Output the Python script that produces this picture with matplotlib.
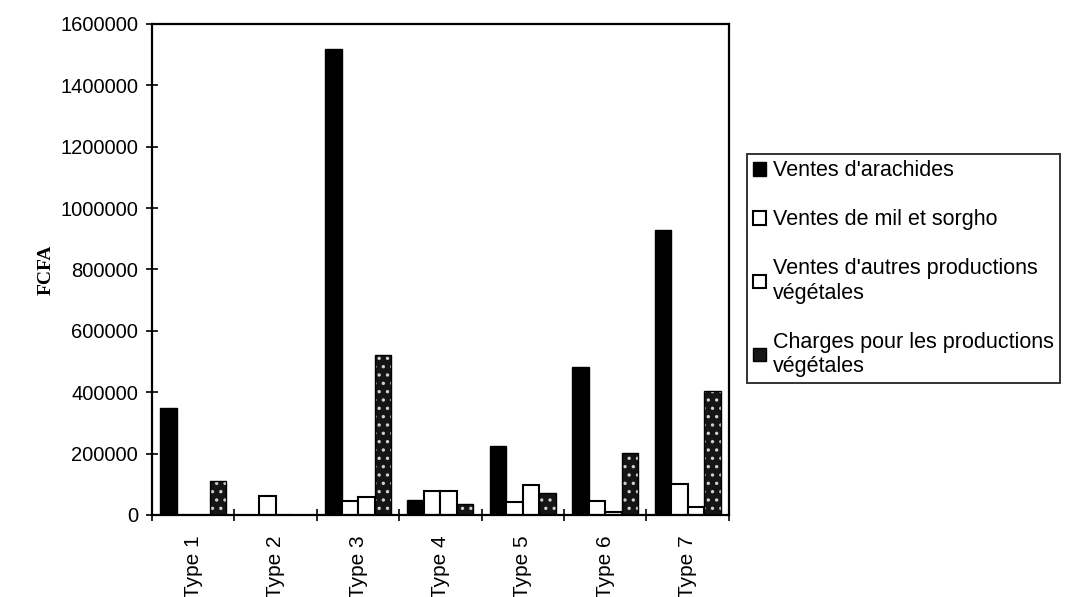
#!/usr/bin/env python3

"""
Ventes et charges des productions végétales par type d'exploitation
"""

import numpy as np
import matplotlib
matplotlib.use("Agg")
import matplotlib.pyplot as plt
from matplotlib.patches import Patch


types = ["Type 1", "Type 2", "Type 3", "Type 4", "Type 5", "Type 6", "Type 7"]

arachides = [350000, 0, 1520000, 48000, 225000, 482000, 930000]
mil_sorgho = [0, 62000, 45000, 78000, 42000, 47000, 100000]
autres = [0, 0, 57000, 78000, 97000, 10000, 26000]
charges = [110000, 0, 520000, 35000, 73000, 202000, 405000]

labels = ["Ventes d'arachides",
          "Ventes de mil et sorgho",
          "Ventes d'autres productions\nvégétales",
          "Charges pour les productions\nvégétales"]

plt.rcParams["font.family"] = ["Liberation Sans", "DejaVu Sans"]
plt.rcParams["hatch.linewidth"] = 1.2

fig = plt.figure(figsize=(10.77, 5.97), dpi=100)
ax = fig.add_axes([0.1411, 0.1374, 0.5357, 0.8224])

x = np.arange(len(types))
w = 0.2

ax.bar(x - 1.5 * w, arachides, w, color="black", edgecolor="black", linewidth=1)
ax.bar(x - 0.5 * w, mil_sorgho, w, color="white", edgecolor="black", linewidth=1.5)
ax.bar(x + 0.5 * w, autres, w, color="white", edgecolor="black", linewidth=1.5)
# speckled dark fill, then a black outline on top
ax.bar(x + 1.5 * w, charges, w, color="#151515", edgecolor="#d0d0d0",
       hatch="..", linewidth=0)
ax.bar(x + 1.5 * w, charges, w, fill=False, edgecolor="black", linewidth=1)

ax.set_xlim(-0.5, len(types) - 0.5)
ax.set_ylim(0, 1600000)
ax.set_yticks(np.arange(0, 1600001, 200000))
ax.set_yticklabels([str(v) for v in range(0, 1600001, 200000)])
ax.set_xticks(np.arange(-0.5, len(types), 1), minor=False)
ax.set_xticklabels([])
ax.set_xticks(x, minor=True)
ax.set_xticklabels(types, minor=True, rotation=90, fontsize=15)
ax.tick_params(axis="x", which="minor", length=0, pad=15)
ax.tick_params(axis="x", which="major", direction="inout", length=8, width=1.2)
ax.tick_params(axis="y", direction="inout", length=8, width=1.2, labelsize=14.5, pad=6)

for s in ax.spines.values():
    s.set_linewidth(1.6)

ax.set_ylabel("FCFA", family=["Liberation Serif"], fontweight="bold",
              fontsize=14, labelpad=4)

handles = [Patch(facecolor="black", edgecolor="black"),
           Patch(facecolor="white", edgecolor="black", linewidth=1.5),
           Patch(facecolor="white", edgecolor="black", linewidth=1.5),
           Patch(facecolor="#151515", edgecolor="black")]
leg = fig.legend(handles, labels, loc="upper left",
                 bbox_to_anchor=(0.6935, 0.742), fontsize=15.5,
                 frameon=True, fancybox=False, edgecolor="black",
                 handlelength=0.6, handleheight=0.6, handletextpad=0.3,
                 labelspacing=1.3, borderpad=0.3, borderaxespad=0)
leg.get_frame().set_linewidth(1.4)

fig.savefig("out.png", dpi=100)
plt.close(fig)
